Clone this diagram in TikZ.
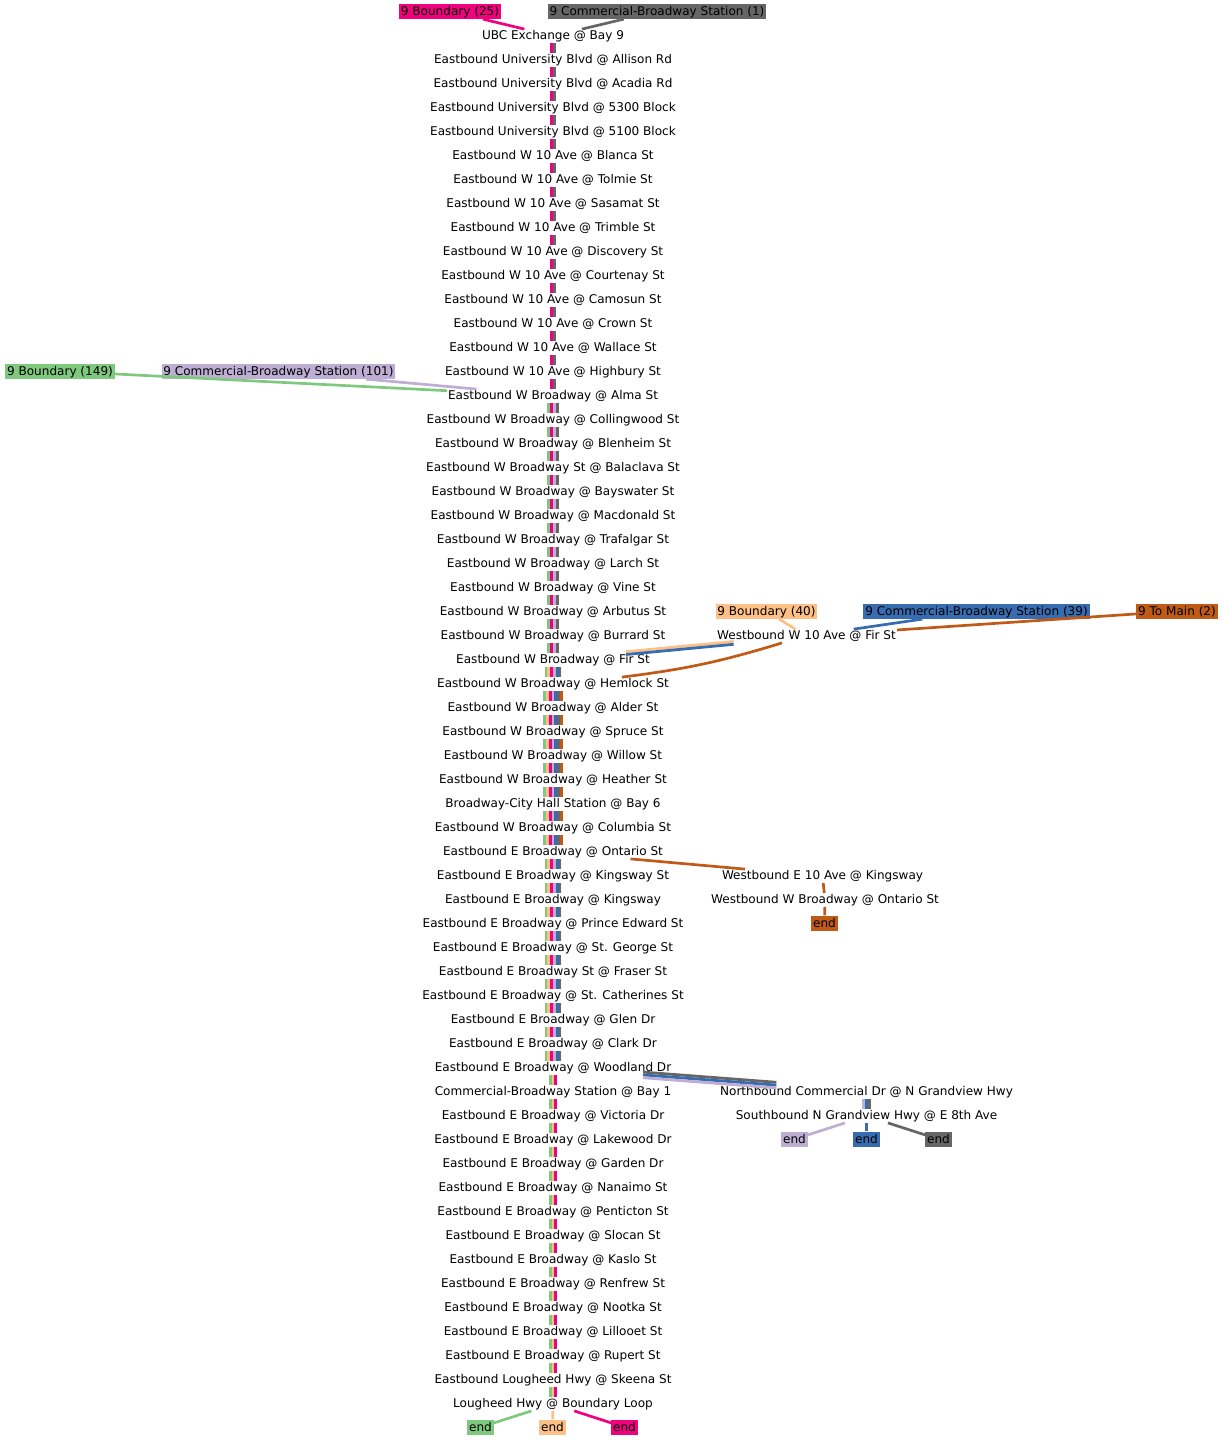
\documentclass[tikz,border=0pt]{standalone}
\usepackage{fontspec}
\setmainfont{DejaVu Sans}
\definecolor{cgreen}{HTML}{7FC97F}
\definecolor{cpurple}{HTML}{BEAED4}
\definecolor{corange}{HTML}{FDC086}
\definecolor{cblue}{HTML}{386CB0}
\definecolor{cpink}{HTML}{F0027F}
\definecolor{cbrown}{HTML}{BF5B17}
\definecolor{cgray}{HTML}{666666}
\newcommand\bundle[4]{\foreach \col [count=\k from 0] in {#4}{\pgfmathsetmacro\off{(\k-(#3-1)/2)*2.8}\draw[line width=2.8pt,draw=\col,transform canvas={xshift=\off pt}] (#1) -- (#2);}}
\newcommand\sbundle[4]{\foreach \col [count=\k from 0] in {#4}{\pgfmathsetmacro\off{((#3-1)/2-\k)*2.8}\draw[line width=2.8pt,draw=\col,transform canvas={yshift=\off pt}] (#1) -- (#2);}}
\begin{document}
\begin{tikzpicture}[x=1pt,y=-1pt,font=\fontsize{12.05}{14}\selectfont,
  stop/.style={inner xsep=1pt,inner ysep=0pt,text height=10pt,text depth=3.4pt,anchor=base},
  lab/.style={fill=#1,inner xsep=1.8pt,inner ysep=0pt,text height=11.8pt,text depth=3.6pt,anchor=base},
  conn/.style={line width=2.7pt,draw=#1}]
\useasboundingbox (0,0) rectangle (1222,1440);
\foreach \t [count=\i from 0] in {
UBC Exchange @ Bay 9,
Eastbound University Blvd @ Allison Rd,
Eastbound University Blvd @ Acadia Rd,
Eastbound University Blvd @ 5300 Block,
Eastbound University Blvd @ 5100 Block,
Eastbound W 10 Ave @ Blanca St,
Eastbound W 10 Ave @ Tolmie St,
Eastbound W 10 Ave @ Sasamat St,
Eastbound W 10 Ave @ Trimble St,
Eastbound W 10 Ave @ Discovery St,
Eastbound W 10 Ave @ Courtenay St,
Eastbound W 10 Ave @ Camosun St,
Eastbound W 10 Ave @ Crown St,
Eastbound W 10 Ave @ Wallace St,
Eastbound W 10 Ave @ Highbury St,
Eastbound W Broadway @ Alma St,
Eastbound W Broadway @ Collingwood St,
Eastbound W Broadway @ Blenheim St,
Eastbound W Broadway St @ Balaclava St,
Eastbound W Broadway @ Bayswater St,
Eastbound W Broadway @ Macdonald St,
Eastbound W Broadway @ Trafalgar St,
Eastbound W Broadway @ Larch St,
Eastbound W Broadway @ Vine St,
Eastbound W Broadway @ Arbutus St,
Eastbound W Broadway @ Burrard St,
Eastbound W Broadway @ Fir St,
Eastbound W Broadway @ Hemlock St,
Eastbound W Broadway @ Alder St,
Eastbound W Broadway @ Spruce St,
Eastbound W Broadway @ Willow St,
Eastbound W Broadway @ Heather St,
Broadway-City Hall Station @ Bay 6,
Eastbound W Broadway @ Columbia St,
Eastbound E Broadway @ Ontario St,
Eastbound E Broadway @ Kingsway St,
Eastbound E Broadway @ Kingsway,
Eastbound E Broadway @ Prince Edward St,
Eastbound E Broadway @ St. George St,
Eastbound E Broadway St @ Fraser St,
Eastbound E Broadway @ St. Catherines St,
Eastbound E Broadway @ Glen Dr,
Eastbound E Broadway @ Clark Dr,
Eastbound E Broadway @ Woodland Dr,
Commercial-Broadway Station @ Bay 1,
Eastbound E Broadway @ Victoria Dr,
Eastbound E Broadway @ Lakewood Dr,
Eastbound E Broadway @ Garden Dr,
Eastbound E Broadway @ Nanaimo St,
Eastbound E Broadway @ Penticton St,
Eastbound E Broadway @ Slocan St,
Eastbound E Broadway @ Kaslo St,
Eastbound E Broadway @ Renfrew St,
Eastbound E Broadway @ Nootka St,
Eastbound E Broadway @ Lillooet St,
Eastbound E Broadway @ Rupert St,
Eastbound Lougheed Hwy @ Skeena St,
Lougheed Hwy @ Boundary Loop}
  \node[stop] (s\i) at (553,{39.3+24*\i}) {\t};
% side stops
\node[stop] (wfir) at (806.5,639.3) {Westbound W 10 Ave @ Fir St};
\node[stop] (we10) at (822.5,879.3) {Westbound E 10 Ave @ Kingsway};
\node[stop] (wont) at (825,903.3) {Westbound W Broadway @ Ontario St};
\node[stop] (ncom) at (866.5,1095.3) {Northbound Commercial Dr @ N Grandview Hwy};
\node[stop] (sgra) at (866.5,1119.3) {Southbound N Grandview Hwy @ E 8th Ave};
% route labels
\node[lab=cpink] (l25) at (450,15.3) {9 Boundary (25)};
\node[lab=cgray] (l1) at (657,15.3) {9 Commercial-Broadway Station (1)};
\node[lab=cgreen] (l149) at (60,375.3) {9 Boundary (149)};
\node[lab=cpurple] (l101) at (278.5,375.3) {9 Commercial-Broadway Station (101)};
\node[lab=corange] (l40) at (766.5,615.3) {9 Boundary (40)};
\node[lab=cblue] (l39) at (976.5,615.3) {9 Commercial-Broadway Station (39)};
\node[lab=cbrown] (l2) at (1177,615.3) {9 To Main (2)};
% end nodes
\node[lab=cbrown] (eb) at (824.5,927.3) {end};
\node[lab=cpurple] (ep2) at (794.5,1143.3) {end};
\node[lab=cblue] (ebl) at (866.5,1143.3) {end};
\node[lab=cgray] (egr) at (938.5,1143.3) {end};
\node[lab=cgreen] (egn) at (480.5,1431.3) {end};
\node[lab=corange] (eor) at (552.5,1431.3) {end};
\node[lab=cpink] (epk) at (624.5,1431.3) {end};
% label connectors
\draw[conn=cpink] (l25) -- (s0);
\draw[conn=cgray] (l1) -- (s0);
\draw[conn=cgreen] (l149) -- (s15);
\draw[conn=cpurple] (l101) -- (s15);
\draw[conn=corange] (l40) -- (wfir);
\draw[conn=cblue] (l39) -- (wfir);
\draw[conn=cbrown] (l2) -- (wfir);
% main bundles
\foreach \i in {0,...,14}{\pgfmathtruncatemacro\j{\i+1}\bundle{s\i}{s\j}{2}{cpink,cgray}}
\foreach \i in {15,...,25}{\pgfmathtruncatemacro\j{\i+1}\bundle{s\i}{s\j}{4}{cgreen,cpink,cpurple,cgray}}
\bundle{s26}{s27}{6}{cgreen,corange,cpink,cpurple,cblue,cgray}
\foreach \i in {27,...,33}{\pgfmathtruncatemacro\j{\i+1}\bundle{s\i}{s\j}{7}{cgreen,corange,cpink,cpurple,cblue,cgray,cbrown}}
\foreach \i in {34,...,42}{\pgfmathtruncatemacro\j{\i+1}\bundle{s\i}{s\j}{6}{cgreen,corange,cpink,cpurple,cblue,cgray}}
\foreach \i in {43,...,56}{\pgfmathtruncatemacro\j{\i+1}\bundle{s\i}{s\j}{3}{cgreen,corange,cpink}}
% branches
\sbundle{wfir}{s26}{2}{corange,cblue}
\draw[conn=cbrown] (wfir) to[bend left=5] (s27);
\draw[conn=cbrown] (s34) -- (we10);
\draw[conn=cbrown] (we10) -- (wont);
\draw[conn=cbrown] (wont) -- (eb);
\sbundle{s43}{ncom}{3}{cgray,cblue,cpurple}
\bundle{ncom}{sgra}{3}{cpurple,cblue,cgray}
\draw[conn=cpurple] (sgra) -- (ep2);
\draw[conn=cblue] (sgra) -- (ebl);
\draw[conn=cgray] (sgra) -- (egr);
\draw[conn=cgreen] (s57) -- (egn);
\draw[conn=corange] (s57) -- (eor);
\draw[conn=cpink] (s57) -- (epk);
\end{tikzpicture}
\end{document}
